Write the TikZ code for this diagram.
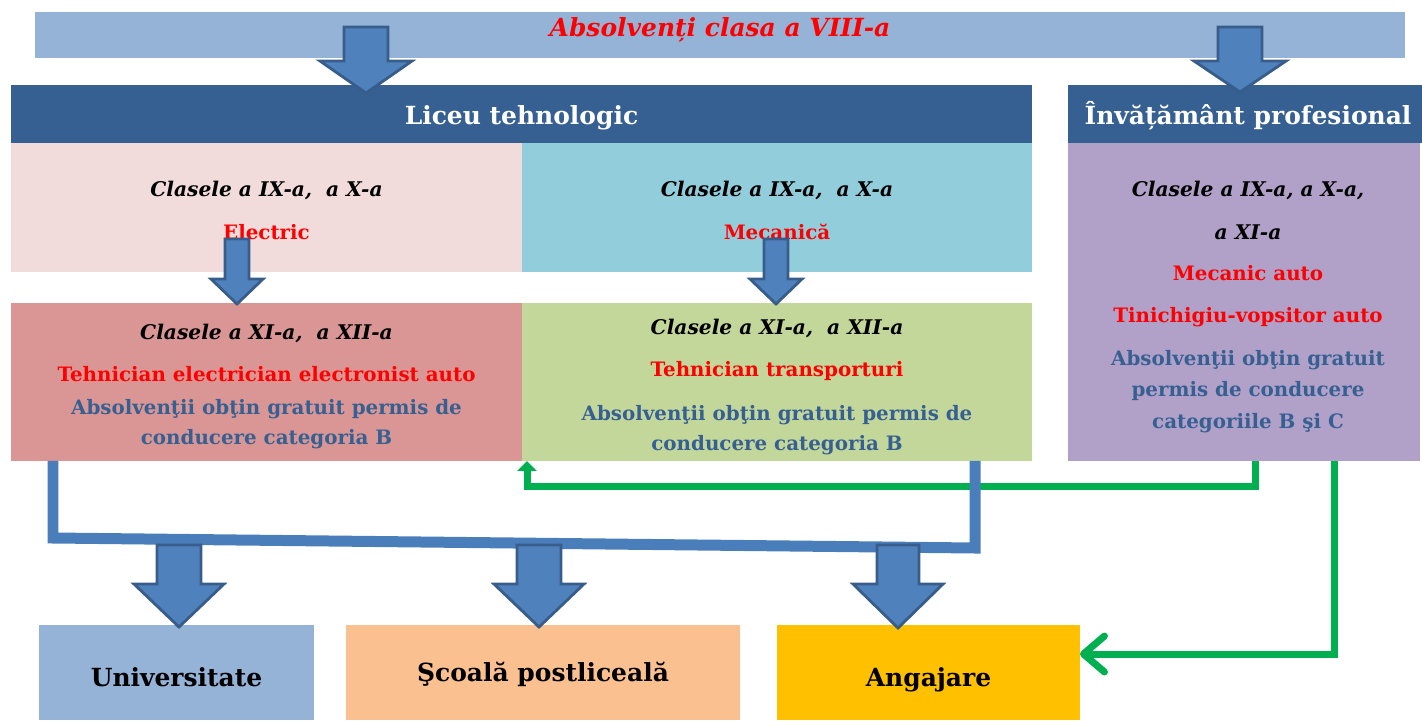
\documentclass[tikz,border=0pt]{standalone}
\usepackage{fontspec}
\setmainfont{DejaVu Serif}
\usetikzlibrary{arrows.meta}

\definecolor{bannerblue}{HTML}{95B3D7}
\definecolor{banddark}{HTML}{366092}
\definecolor{pinkbox}{HTML}{F2DCDB}
\definecolor{cyanbox}{HTML}{92CDDC}
\definecolor{rosebox}{HTML}{DA9694}
\definecolor{olivebox}{HTML}{C4D79B}
\definecolor{lilacbox}{HTML}{B1A0C7}
\definecolor{peachbox}{HTML}{FAC090}
\definecolor{goldbox}{HTML}{FFC000}
\definecolor{arrowfill}{HTML}{4F81BD}
\definecolor{arrowedge}{HTML}{385D8A}
\definecolor{busblue}{HTML}{4A7EBB}
\definecolor{linkgreen}{HTML}{00B050}
\definecolor{noteblue}{HTML}{376092}

\tikzset{
  box/.style={rectangle, inner sep=0pt, outer sep=0pt},
  txt/.style={anchor=base, inner sep=0pt, font=\bfseries\fontsize{11.3}{13}\selectfont},
  cls/.style={txt, font=\bfseries\itshape\fontsize{11.5}{13}\selectfont},
  spec/.style={txt, text=red},
  note/.style={txt, text=noteblue},
  head/.style={anchor=base, inner sep=0pt, text=white, font=\bfseries\fontsize{14.2}{17}\selectfont},
  dest/.style={anchor=base, inner sep=0pt, font=\bfseries\fontsize{14.2}{17}\selectfont},
  bus/.style={busblue, line width=0.22cm, line join=miter},
  link/.style={linkgreen, line width=0.14cm, line join=miter}
}

% block arrow: centre x, top y, head base y, tip y, shaft half width, head half width
\newcommand{\blkarrow}[6]{%
  \filldraw[fill=arrowfill, draw=arrowedge, line width=1.6pt, line join=miter]
    ({#1-#5},#2) -- ({#1+#5},#2) -- ({#1+#5},#3) -- ({#1+#6},#3) -- (#1,#4)
    -- ({#1-#6},#3) -- ({#1-#5},#3) -- cycle;}

\begin{document}
\begin{tikzpicture}[x=0.02cm, y=-0.02cm]
\useasboundingbox (0,0) rectangle (1422,720);

% top row
\node[box, fill=bannerblue, minimum width=27.4cm, minimum height=0.92cm] (banner) at (720,35) {};
\node[anchor=base, inner sep=0pt, text=red, font=\bfseries\itshape\fontsize{14.2}{17}\selectfont] (title) at (720,36) {Absolvenți clasa a VIII-a};

\node[box, fill=banddark, minimum width=20.42cm, minimum height=1.16cm] (liceu) at (521.5,114) {};
\node[head] (liceuT) at (521.5,124) {Liceu tehnologic};
\node[box, fill=banddark, minimum width=7.08cm, minimum height=1.16cm] (prof) at (1245,114) {};
\node[head] (profT) at (1248,124) {Învățământ profesional};

% liceu tehnologic
\node[box, fill=pinkbox, minimum width=10.22cm, minimum height=2.58cm] (electric) at (266.5,207.5) {};
\node[box, fill=cyanbox, minimum width=10.2cm, minimum height=2.58cm] (mecanica) at (777,207.5) {};
\node[box, fill=rosebox, minimum width=10.22cm, minimum height=3.16cm] (tehEl) at (266.5,382) {};
\node[box, fill=olivebox, minimum width=10.2cm, minimum height=3.16cm] (tehTr) at (777,382) {};

\node[cls] (electricA) at (266.5,196) {Clasele a IX-a,\ \ a X-a};
\node[spec] (electricB) at (266.5,239) {Electric};
\node[cls] (mecanicaA) at (777,196) {Clasele a IX-a,\ \ a X-a};
\node[spec] (mecanicaB) at (777,239) {Mecanică};

\node[cls] (tehElA) at (266.5,339) {Clasele a XI-a,\ \ a XII-a};
\node[spec] (tehElB) at (266.5,381) {Tehnician electrician electronist auto};
\node[note] (tehElC) at (266.5,414) {Absolvenţii obţin gratuit permis de};
\node[note] (tehElD) at (266.5,444) {conducere categoria B};

\node[cls] (tehTrA) at (777,334) {Clasele a XI-a,\ \ a XII-a};
\node[spec] (tehTrB) at (777,376) {Tehnician transporturi};
\node[note] (tehTrC) at (777,420) {Absolvenţii obţin gratuit permis de};
\node[note] (tehTrD) at (777,450) {conducere categoria B};

% invatamant profesional
\node[box, fill=lilacbox, minimum width=7.04cm, minimum height=6.36cm] (mecAuto) at (1244,302) {};
\node[cls] (mecAutoA) at (1248,196) {Clasele a IX-a, a X-a,};
\node[cls] (mecAutoB) at (1248,239) {a XI-a};
\node[spec] (mecAutoC) at (1248,280) {Mecanic auto};
\node[spec] (mecAutoD) at (1248,322) {Tinichigiu-vopsitor auto};
\node[note] (mecAutoE) at (1248,365) {Absolvenţii obţin gratuit};
\node[note] (mecAutoF) at (1248,396) {permis de conducere};
\node[note] (mecAutoG) at (1248,428) {categoriile B şi C};

% destinations
\node[box, fill=bannerblue, minimum width=5.5cm, minimum height=1.9cm] (univ) at (176.5,672.5) {};
\node[dest] (univT) at (176.5,686) {Universitate};
\node[box, fill=peachbox, minimum width=7.88cm, minimum height=1.9cm] (scoala) at (543,672.5) {};
\node[dest] (scoalaT) at (543,681) {Şcoală postliceală};
\node[box, fill=goldbox, minimum width=6.06cm, minimum height=1.9cm] (angajare) at (928.5,672.5) {};
\node[dest] (angajareT) at (928.5,686) {Angajare};

% green links
\coordinate (gR) at (1255,486);
\coordinate (gL) at (527,486);
\draw[link, -{Triangle[length=0.2cm, width=0.38cm]}] (mecAuto.south -| gR) -- (gR) -- (gL) -- (tehTr.south -| gL);
\coordinate (g2) at (1334,654);
\draw[link, -{Straight Barb[length=0.42cm, width=0.72cm, round]}] (mecAuto.south -| g2) -- (g2) -- (angajare.east |- g2);

% blue bus
\coordinate (busL) at (53,538);
\coordinate (busR) at (975,548);
\draw[bus] (tehEl.south -| busL) -- (busL) -- (busR) -- (tehTr.south -| busR);

% block arrows
\blkarrow{366}{27}{61}{93}{22}{46}
\blkarrow{1240}{27}{61}{92}{22}{46}
\blkarrow{237}{239}{279}{304}{12}{26}
\blkarrow{776}{239}{279}{304}{12}{26}
\blkarrow{179}{545}{584}{627}{22}{45}
\blkarrow{539}{545}{584}{627}{22}{45}
\blkarrow{898}{545}{584}{628}{21}{45}
\end{tikzpicture}
\end{document}
